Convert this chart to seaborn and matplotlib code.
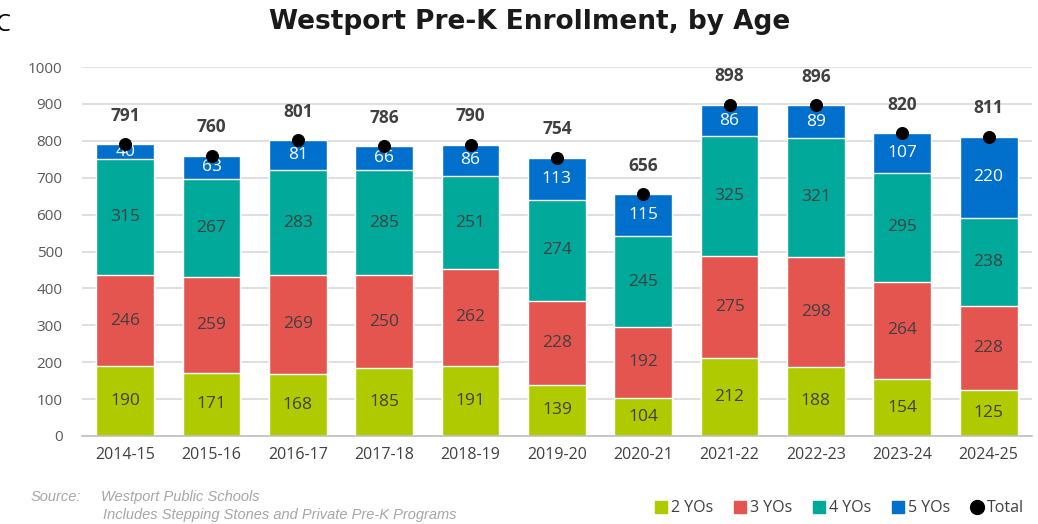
import numpy as np
import pandas as pd
import matplotlib.pyplot as plt
from matplotlib.lines import Line2D
import seaborn as sns

sns.set_style('white')
plt.rcParams['font.family'] = ['Open Sans', 'DejaVu Sans']

years = ['2014-15', '2015-16', '2016-17', '2017-18', '2018-19', '2019-20',
         '2020-21', '2021-22', '2022-23', '2023-24', '2024-25']
age2 = [190, 171, 168, 185, 191, 139, 104, 212, 188, 154, 125]
age3 = [246, 259, 269, 250, 262, 228, 192, 275, 298, 264, 228]
age4 = [315, 267, 283, 285, 251, 274, 245, 325, 321, 295, 238]
age5 = [40, 63, 81, 66, 86, 113, 115, 86, 89, 107, 220]
total = [791, 760, 801, 786, 790, 754, 656, 898, 896, 820, 811]

series = ['2 YOs', '3 YOs', '4 YOs', '5 YOs']
colors = ['#AFCB00', '#E5554F', '#00A99A', '#0070CC']
text_colors = ['#404040', '#404040', '#404040', 'white']

df = pd.DataFrame({'year': years, '2 YOs': age2, '3 YOs': age3,
                   '4 YOs': age4, '5 YOs': age5, 'Total': total})
cum = df[series].cumsum(axis=1)

fig = plt.figure(figsize=(10.38, 5.24), dpi=100)
ax = fig.add_axes([0.079, 0.168, 0.915, 0.704])

# stacked bars: draw tallest cumulative first, then overdraw lower layers
for i in range(len(series) - 1, -1, -1):
    sns.barplot(x=df['year'], y=cum[series[i]], color=colors[i], width=0.67,
                saturation=1, ax=ax, zorder=2)

# segment labels
for i, s in enumerate(series):
    base = cum[s] - df[s]
    for j in range(len(years)):
        ax.text(j, base[j] + df[s][j] / 2, str(df[s][j]), ha='center', va='center',
                fontsize=12.5, color=text_colors[i], zorder=4)

sns.scatterplot(x=np.arange(len(years)), y=df['Total'], color='black', s=75,
                edgecolor='black', ax=ax, zorder=5, legend=False)
for j, t in enumerate(total):
    ax.annotate(str(t), (j, t), xytext=(0, 14), textcoords='offset points',
                ha='center', va='bottom', fontsize=12.5, fontweight='bold',
                color='#404040')

ax.set_xlim(-0.5, 10.5)
ax.set_ylim(0, 1000)
ax.set_yticks(range(0, 1001, 100))
ax.yaxis.grid(True, color='#D9D9D9', linewidth=1.2, zorder=0)
ax.set_axisbelow(True)
for sp in ['top', 'right', 'left']:
    ax.spines[sp].set_visible(False)
ax.spines['bottom'].set_color('#BFBFBF')
ax.spines['bottom'].set_linewidth(1.2)
ax.tick_params(axis='both', length=0)
ax.tick_params(axis='y', labelsize=11, labelcolor='#595959', pad=14)
ax.tick_params(axis='x', labelsize=11.5, labelcolor='#404040', pad=8)
ax.set_xlabel('')
ax.set_ylabel('')

fig.text(0.51, 0.958, 'Westport Pre-K Enrollment, by Age', ha='center', va='center',
         fontsize=19, fontweight='bold', family=['DejaVu Sans'], color='#1a1a1a')
fig.text(-0.004, 0.952, 'C', ha='left', va='center', fontsize=17, color='black')

fig.text(0.029, 0.051, 'Source:', ha='left', va='center', fontsize=10.5, style='italic',
         color='#A6A6A6', family=['Liberation Sans', 'DejaVu Sans'])
fig.text(0.097, 0.051, 'Westport Public Schools', ha='left', va='center', fontsize=10.5,
         style='italic', color='#A6A6A6', family=['Liberation Sans', 'DejaVu Sans'])
fig.text(0.099, 0.018, 'Includes Stepping Stones and Private Pre-K Programs', ha='left',
         va='center', fontsize=10.5, style='italic', color='#A6A6A6',
         family=['Liberation Sans', 'DejaVu Sans'])

handles = [Line2D([], [], marker='s', linestyle='', color=c, markersize=9) for c in colors]
handles.append(Line2D([], [], marker='o', linestyle='', color='black', markersize=10))
leg = fig.legend(handles, series + ['Total'], loc='center right', ncol=5, frameon=False,
                 bbox_to_anchor=(1.0, 0.03), fontsize=11.5, handletextpad=0.1,
                 columnspacing=1.2, handlelength=1.0)
for t in leg.get_texts():
    t.set_color('#404040')

fig.savefig('out.png', dpi=100)
